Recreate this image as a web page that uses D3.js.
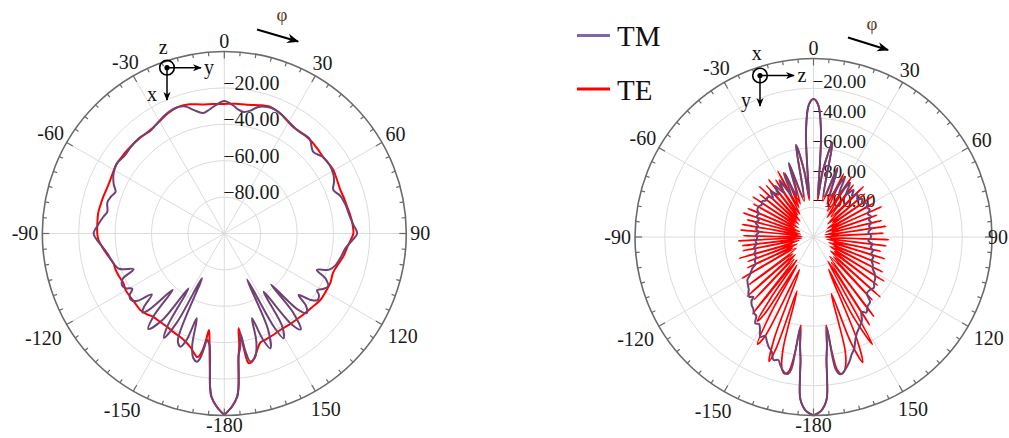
<!DOCTYPE html>
<html><head><meta charset="utf-8">
<script src="https://cdn.jsdelivr.net/npm/d3@7"></script>
<style>body{margin:0;background:#fff}svg{display:block}</style>
</head><body>
<svg id="chart" width="1009" height="438"></svg>
<script>
// ---------- data ----------
const angleTicks  = [0, 30, 60, 90, 120, 150, 180, -150, -120, -90, -60, -30];
const angleLabels = ["0","30","60","90","120","150","-180","-150","-120","-90","-60","-30"];
const leftRings  = [-80, -60, -40, -20];
const rightRings = [-100, -80, -60, -40, -20];
const seriesNames = ["TM", "TE"];

// [phi (deg), level (dB)]
const leftTM = [[-180,-0.3],[-177.5,-4.7],[-175.5,-10],[-174.7,-15.4],[-174.2,-22],[-173.4,-32],[-172.5,-38],[-171.5,-40],[-170.8,-41],[-170,-36],[-169,-30],[-168,-28],[-166,-29.5],[-164,-36],[-162,-51],[-160.5,-38],[-158.8,-33.3],[-156.5,-36],[-153.5,-72.5],[-152,-45],[-150,-33.8],[-148.5,-40],[-146.9,-64],[-144.5,-42],[-141.5,-33],[-139.5,-40],[-137.5,-58],[-135.5,-42],[-134,-37.5],[-132.5,-40],[-130,-48],[-127.5,-39],[-125,-37],[-123,-38],[-121,-41],[-119,-38],[-117,-37],[-114,-39],[-111.5,-46.4],[-108.5,-39],[-104,-36.5],[-100,-35],[-96,-32.5],[-93,-30],[-90,-28.2],[-86,-30.5],[-82,-33],[-79.5,-34.6],[-75,-33.5],[-72,-34.5],[-69,-36],[-66,-33.5],[-62,-31],[-57,-29.5],[-52,-30.5],[-47,-30],[-41,-29.7],[-36,-30.5],[-31,-29],[-26,-27],[-21,-26],[-17,-27],[-14,-30],[-10,-32.8],[-7,-31.5],[-4,-29.5],[0,-27.2],[4,-29.5],[6.5,-31.5],[9,-32.4],[12,-31],[15,-28],[18.8,-26.6],[22,-26.5],[26,-27.5],[31,-29.5],[36,-30.5],[42,-30],[47.5,-33.7],[52,-31.5],[57,-31],[62,-32],[65,-33.5],[68.2,-35.5],[72,-33],[77,-31.5],[82,-30.5],[86,-29],[90,-27],[93,-29.5],[97,-33],[101,-34.5],[106,-36.5],[109,-39],[111.5,-45.3],[114,-39],[117,-36],[119.5,-38],[121.4,-40.3],[123,-38],[125.5,-37],[127.5,-40],[129.6,-47],[131.5,-40],[134,-37],[136,-42],[137.5,-62],[139,-42],[141.5,-32.6],[143.5,-38],[146,-61.4],[148,-40],[150.5,-33.8],[152,-42],[153.6,-71.9],[155.5,-42],[158.2,-32],[160,-38],[161.9,-51],[163.5,-38],[166,-30],[168.5,-28.3],[169.8,-34],[170.8,-44],[172,-37],[173.4,-32],[174.2,-22],[174.7,-15.4],[175.5,-10],[177.5,-4.7],[180,-0.3]];

const leftTE = [[-180,-0.3],[-177.5,-4.7],[-175.5,-10],[-174.7,-15.4],[-174,-24],[-173.2,-32],[-172.2,-40],[-171,-46.3],[-170.2,-40],[-169.3,-34],[-168.3,-31],[-167.5,-30.5],[-166,-32],[-163.3,-34.9],[-160,-37],[-157,-38.2],[-153,-39],[-148.6,-39.8],[-144,-40],[-139.6,-39.8],[-136,-38.5],[-132.3,-37.6],[-128,-37.8],[-124,-37.7],[-120,-37.5],[-116.1,-38.2],[-112,-37.5],[-108,-37],[-104.9,-36.9],[-100,-34.5],[-96.3,-32.5],[-93,-30.8],[-90,-30.2],[-85,-30],[-80.8,-29.8],[-76,-30.3],[-73.2,-30.5],[-69,-30.9],[-64.9,-30.8],[-60,-30],[-56.6,-29.6],[-52,-29.7],[-47.4,-29.8],[-42,-30],[-35.6,-30.1],[-30,-28.8],[-24.9,-27],[-20,-26],[-15,-26.5],[-10,-28],[-5,-28.6],[0,-28.8],[5,-28.5],[10,-28.2],[15,-27],[20,-26],[25,-27.3],[29,-29],[32.9,-30.3],[37.5,-30.3],[42.6,-30.2],[47.5,-30.8],[52.3,-31.3],[56,-31],[59.8,-30.7],[64.5,-31.4],[69.4,-31.9],[73.5,-31.4],[77.8,-30.9],[81.5,-30.1],[85.3,-29.4],[90,-29.1],[93,-30.5],[96.3,-32],[101,-33.4],[106,-35.5],[110,-36.5],[115,-35.7],[120,-35.8],[124.7,-35.8],[130,-37],[137.6,-38],[144,-38.5],[149.9,-38.7],[155,-38],[158.5,-37.5],[161.8,-36.8],[164.5,-33],[166.5,-29.5],[168.2,-27.6],[169.4,-27.5],[170.5,-38],[171.4,-47.3],[172.4,-38],[173.4,-31.9],[174.2,-22],[174.7,-15.4],[175.5,-10],[177.5,-4.7],[180,-0.3]];

const rightTM = [[-180,0],[-177.5,-3],[-175.4,-10.4],[-174.5,-25],[-174,-36.6],[-173,-46],[-171.6,-58],[-170.5,-30],[-169.5,-26.5],[-168.3,-26.4],[-167,-28],[-165.5,-31],[-164,-34],[-162,-33],[-160,-38],[-158,-40],[-156,-43],[-154,-46],[-152,-44],[-150,-48],[-148,-51],[-146,-50],[-144,-54.5],[-142,-55],[-140,-57],[-138,-58],[-136,-60],[-134.8,-63],[-133,-61],[-131,-62],[-129,-64],[-127,-65],[-125,-66],[-123,-67],[-121,-70],[-119,-72],[-117,-74],[-115,-77],[-112,-77.5],[-109,-79],[-106,-78.5],[-103,-80],[-100,-79.5],[-97,-81.5],[-94,-81],[-91,-82.2],[-88,-81.5],[-85,-83],[-82,-81],[-79.4,-82.2],[-76,-80],[-73,-81.5],[-70,-79.5],[-67,-80],[-64,-78],[-61,-77.8],[-58,-79],[-55,-78],[-52,-80],[-49,-79],[-46,-82],[-43,-78],[-40,-83],[-37,-77],[-34,-84],[-31,-75.5],[-28,-88],[-25,-72.5],[-22,-90],[-18.5,-67.6],[-14.5,-92],[-10.8,-57],[-8,-75],[-6.5,-92],[-5,-70],[-4,-48],[-2,-31],[0,-27.2],[2,-31],[4,-48],[5,-70],[6.5,-92],[8,-75],[11.4,-55.3],[14.5,-92],[19.2,-70.8],[22.5,-90],[27.7,-74.4],[30.5,-86],[34,-76],[37.5,-84],[40.4,-78.5],[43,-82],[46,-79],[49,-81],[52,-78.5],[55,-80],[58,-77.5],[61,-79],[64,-78],[67,-80.5],[70,-79],[73,-81],[76,-80],[79,-82],[82,-81],[85,-83],[88,-81.5],[91,-81.6],[94,-83],[97,-80],[100,-81],[103,-79],[106,-79.5],[109,-77.5],[112,-78],[115,-76],[118,-75],[121,-72],[124,-70],[127,-69],[130,-67],[133,-68],[136.6,-67.9],[139,-62],[142,-61],[145,-58],[147.2,-60.2],[150,-55],[153,-52],[155.8,-49],[158,-45],[160,-40],[162,-37],[163.5,-33.7],[165.5,-30],[167.5,-27],[169,-26],[170.5,-30],[171.6,-58],[173,-46],[174,-36.6],[174.5,-25],[175.4,-10.4],[177.5,-3],[180,0]];

const rightTE = [[-180,0],[-177.5,-3],[-175.4,-10.4],[-174.5,-25],[-174,-36.6],[-173,-46],[-171.8,-60],[-170.8,-40],[-169.5,-28],[-168,-26],[-166.5,-29],[-164.8,-42],[-163,-82],[-161.5,-42],[-160.3,-31.3],[-158.8,-48],[-156.8,-96],[-154,-46],[-152.4,-38.7],[-150.8,-60],[-149.5,-98],[-147.5,-58],[-146.3,-52],[-145,-70],[-144,-101],[-141.6,-54],[-139,-100],[-136.5,-62],[-134,-103],[-131.8,-60.3],[-129,-102],[-126.5,-66],[-123,-106],[-120,-64.7],[-117.5,-104],[-115,-71],[-112.8,-108],[-110.5,-73],[-108.3,-105],[-106,-68],[-103.5,-110],[-101,-71.6],[-99,-106],[-97,-72],[-95,-112],[-93,-69.6],[-91,-108],[-89,-73],[-86.8,-112],[-84.5,-71],[-82.3,-109],[-80,-71.6],[-77.8,-111],[-75.5,-74],[-73.3,-107],[-71,-70],[-68.8,-110],[-66.5,-72],[-63.8,-106],[-61.2,-73.8],[-58.8,-108],[-56.5,-71],[-54,-105],[-51.5,-74],[-49.3,-107],[-47,-70],[-44.8,-104],[-42.5,-73],[-40.3,-106],[-38,-71],[-35.8,-102],[-33.5,-74],[-31,-102],[-28.5,-69.6],[-26.3,-98],[-24,-73],[-21.8,-96],[-18.5,-68],[-14.5,-95],[-10.8,-57],[-8,-75],[-6.5,-95],[-5,-70],[-4,-48],[-2,-31],[0,-27.2],[2,-31],[4,-48],[5,-70],[6.5,-95],[8,-75],[11.4,-55.3],[14.5,-95],[19.2,-70.8],[22.5,-96],[25.5,-73],[28.5,-100],[32.4,-72],[35,-104],[37.5,-76],[41,-102],[44.7,-72.4],[47.5,-107],[50,-75],[52.7,-104],[55.5,-71],[58,-109],[60.6,-73.9],[63.3,-106],[66,-70],[68.5,-111],[71,-75],[73.7,-107],[76.5,-73],[79,-112],[81.5,-71],[84.2,-108],[87,-73],[89.5,-112],[92,-69.6],[94.5,-109],[97,-71],[99.5,-111],[102,-74],[104.5,-106],[107,-70],[109.5,-109],[112,-72],[114.5,-105],[117,-68],[119.5,-107],[122,-64],[124.5,-103],[127,-66],[129.5,-105],[132,-59.7],[134.5,-101],[137,-62],[140,-103],[142.8,-53],[145,-99],[147.5,-50],[149.3,-101],[151.2,-37.7],[153.5,-60],[155,-96],[157,-45],[158.6,-29.5],[160.5,-45],[162.5,-80],[164.5,-40],[166.5,-29],[168.3,-26],[169.8,-29],[170.8,-40],[171.8,-60],[173,-46],[174,-36.6],[174.5,-25],[175.4,-10.4],[177.5,-3],[180,0]];

// ---------- styling ----------
const TM_COLOR = "#6e4275", TM_LEGEND = "#8466a5", TE_COLOR = "#ff0000";
const FONT = "'Liberation Serif','Times New Roman',serif";
const W = 1009;

const svg = d3.select("#chart");
const defs = svg.append("defs");
defs.append("marker").attr("id","arr").attr("viewBox","0 0 10 10").attr("refX",9).attr("refY",5)
  .attr("markerWidth",6).attr("markerHeight",6).attr("orient","auto-start-reverse")
  .append("path").attr("d","M0,1 L10,5 L0,9 L3,5 Z").attr("fill","#000");

function polar(cfg) {
  const g = svg.append("g").attr("transform", `translate(${cfg.cx},${cfg.cy})`);
  const r = d3.scaleLinear().domain([cfg.min, 0]).range([0, cfg.R]).clamp(true);
  const rad = d => d * Math.PI / 180;

  g.selectAll("circle.ring").data(cfg.rings).join("circle")
    .attr("r", d => r(d)).attr("fill","none").attr("stroke","#dcdcdc").attr("stroke-width",1);
  g.selectAll("line.spoke").data(angleTicks).join("line")
    .attr("x1",0).attr("y1",0)
    .attr("x2", d => cfg.R*Math.sin(rad(d))).attr("y2", d => -cfg.R*Math.cos(rad(d)))
    .attr("stroke","#dcdcdc").attr("stroke-width",1);

  g.selectAll("text.rl").data(cfg.rings).join("text")
    .attr("x", -1).attr("y", d => -r(d) + cfg.rlOff)
    .attr("font-family", FONT).attr("font-size", cfg.rlSize).attr("fill","#1a1a1a")
    .text(d => d3.format(".2f")(d));

  const line = d3.lineRadial().angle(d => rad(d[0])).radius(d => r(d[1]))
    .curve(d3.curveCatmullRom.alpha(0.5));
  g.append("path").datum(cfg.te).attr("d", line).attr("fill","none")
    .attr("stroke", TE_COLOR).attr("stroke-width", cfg.teW).attr("stroke-linejoin","round");
  g.append("path").datum(cfg.tm).attr("d", line).attr("fill","none")
    .attr("stroke", TM_COLOR).attr("stroke-width", 2).attr("stroke-linejoin","round");

  g.append("circle").attr("r", cfg.R).attr("fill","none").attr("stroke","#6a6a6a").attr("stroke-width",1.6);
  g.selectAll("line.tk").data(d3.range(0, 360, 5)).join("line")
    .attr("x1", d => cfg.R*Math.sin(rad(d))).attr("y1", d => -cfg.R*Math.cos(rad(d)))
    .attr("x2", d => (cfg.R - (d % 30 === 0 ? 7 : 4))*Math.sin(rad(d)))
    .attr("y2", d => -(cfg.R - (d % 30 === 0 ? 7 : 4))*Math.cos(rad(d)))
    .attr("stroke","#6a6a6a").attr("stroke-width",1.2);

  angleTicks.forEach((a, i) => {
    const t = g.append("text").attr("font-family", FONT).attr("font-size", 20).attr("fill","#1a1a1a")
      .attr("text-anchor","middle").attr("dy","0.33em").text(angleLabels[i]);
    const w = t.node().getComputedTextLength();
    const s = Math.abs(Math.sin(rad(a))), c = Math.abs(Math.cos(rad(a)));
    const lower = (Math.cos(rad(a)) < -0.1 && s > 0.3) ? 4 : 0;
    const dist = cfg.R + 4 + s*w/2 + c*6 + lower;
    let x = dist*Math.sin(rad(a));
    const maxX = W - 1 - cfg.cx - w/2;
    if (x > maxX) x = maxX;
    t.attr("x", x).attr("y", -dist*Math.cos(rad(a)));
  });
}

polar({cx:224.3, cy:233.5, R:182, min:-100, rings:leftRings, rlSize:20, rlOff:2, te:leftTE, tm:leftTM, teW:2});
polar({cx:813.5, cy:237, R:178.5, min:-120, rings:rightRings, rlSize:19, rlOff:0, te:rightTE, tm:rightTM, teW:1.7});

// ---------- annotations ----------
function txt(x, y, s, size, col) {
  svg.append("text").attr("x", x).attr("y", y).attr("text-anchor","middle").attr("dy","0.33em")
    .attr("font-family", FONT).attr("font-size", size).attr("fill", col || "#111").text(s);
}
function arrow(x1, y1, x2, y2, w) {
  svg.append("line").attr("x1",x1).attr("y1",y1).attr("x2",x2).attr("y2",y2)
    .attr("stroke","#000").attr("stroke-width",w).attr("marker-end","url(#arr)");
}
function axesIcon(cx, cy, right, down, top, rx, dx, dy, tx, ty) {
  svg.append("circle").attr("cx",cx).attr("cy",cy).attr("r",7.3).attr("fill","none").attr("stroke","#000").attr("stroke-width",1.6);
  svg.append("circle").attr("cx",cx).attr("cy",cy).attr("r",2.6).attr("fill","#000");
  arrow(cx, cy, rx, cy, 1.5);
  arrow(cx, cy, cx, dy, 1.5);
  txt(rx + 8, cy, right, 20);
  txt(dx, dy - 6, down, 20);
  txt(tx, ty, top, 20);
}
arrow(257, 29.5, 298, 41.5, 2);
txt(282, 15, "φ", 19, "#5a3818");
axesIcon(167, 67.7, "y", "x", "z", 201, 152, 100, 163.3, 47);
arrow(848, 37.5, 888, 50, 2);
txt(872, 24, "φ", 19, "#5a3818");
axesIcon(760, 75.5, "z", "y", "x", 794, 746, 106, 756.7, 53);

// ---------- legend ----------
const legend = svg.append("g");
[[seriesNames[0], TM_LEGEND, 35.5], [seriesNames[1], TE_COLOR, 89]].forEach(([name, col, y]) => {
  legend.append("line").attr("x1",577).attr("x2",610).attr("y1",y).attr("y2",y)
    .attr("stroke",col).attr("stroke-width",3.2);
  legend.append("text").attr("x",617).attr("y",y + 10.5).attr("font-family",FONT)
    .attr("font-size",29).attr("fill","#111").text(name);
});
</script>
</body></html>
